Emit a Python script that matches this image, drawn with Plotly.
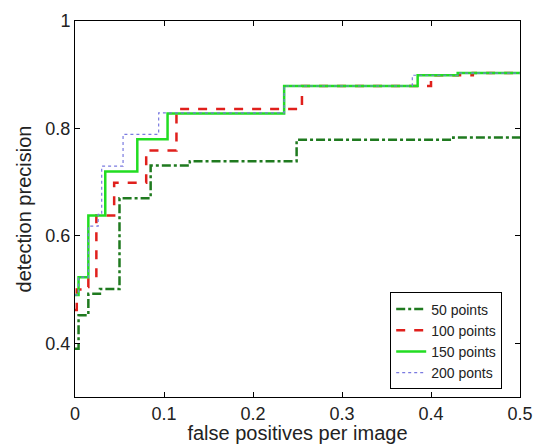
import plotly.graph_objects as go

fp_50 = [0, 0.004, 0.015, 0.028, 0.050, 0.085, 0.129, 0.249, 0.425, 0.5]
prec_50 = [0.39, 0.452, 0.492, 0.501, 0.67, 0.731, 0.739, 0.779, 0.783, 0.783]

fp_100 = [0, 0.002, 0.0075, 0.015, 0.024, 0.044, 0.080, 0.114, 0.255, 0.400, 0.447, 0.5]
prec_100 = [0.462, 0.50, 0.505, 0.521, 0.638, 0.699, 0.759, 0.836, 0.879, 0.899, 0.903, 0.903]

fp_150 = [0, 0.004, 0.015, 0.034, 0.070, 0.104, 0.235, 0.385, 0.43, 0.5]
prec_150 = [0.49, 0.523, 0.638, 0.72, 0.78, 0.828, 0.879, 0.899, 0.903, 0.903]

fp_200 = [0, 0.004, 0.015, 0.026, 0.030, 0.054, 0.094, 0.235, 0.379, 0.43, 0.5]
prec_200 = [0.49, 0.523, 0.618, 0.64, 0.73, 0.789, 0.829, 0.879, 0.899, 0.903, 0.903]

names = ["50 points", "100 points", "150 points", "200 ponts"]
x_ticks = [0, 0.1, 0.2, 0.3, 0.4, 0.5]
x_ticklabels = ["0", "0.1", "0.2", "0.3", "0.4", "0.5"]
y_ticks = [0.4, 0.6, 0.8, 1.0]
y_ticklabels = ["0.4", "0.6", "0.8", "1"]

fig = go.Figure()
series = [
    (fp_50, prec_50, names[0], dict(color="#1f7a1f", width=2.5, dash="dashdot")),
    (fp_100, prec_100, names[1], dict(color="#e0201c", width=2.5, dash="dash")),
    (fp_150, prec_150, names[2], dict(color="#22dd22", width=2.5, dash="solid")),
    (fp_200, prec_200, names[3], dict(color="#7a7ae0", width=1.2, dash="dot")),
]
for xs, ys, nm, ln in series:
    fig.add_trace(go.Scatter(x=xs, y=ys, name=nm, mode="lines",
                             line=dict(shape="hv", **ln)))

axis_common = dict(showline=True, linecolor="black", linewidth=1, mirror="ticks",
                   ticks="inside", ticklen=5, tickcolor="black", showgrid=False,
                   zeroline=False, automargin=False,
                   tickfont=dict(size=18, color="#222"))
fig.update_xaxes(range=[0, 0.5], tickvals=x_ticks, ticktext=x_ticklabels,
                 title=dict(text="false positives per image", font=dict(size=20, color="#222"), standoff=2),
                 **axis_common)
fig.update_yaxes(range=[0.3, 1.0], tickvals=y_ticks, ticktext=y_ticklabels,
                 title=dict(text="detection precision", font=dict(size=20, color="#222"), standoff=8),
                 **axis_common)

fig.update_layout(
    width=534, height=444,
    margin=dict(l=75, r=14, t=21, b=47),
    paper_bgcolor="white", plot_bgcolor="white",
    font=dict(family="Liberation Sans, Arial, sans-serif", color="#222"),
    legend=dict(x=0.96, y=0.278, xanchor="right", yanchor="top",
                bordercolor="black", borderwidth=1, bgcolor="white",
                font=dict(size=14), tracegroupgap=0, itemwidth=30),
    showlegend=True,
)
fig.write_html("out.html", config={"displayModeBar": False},
               post_script="document.body.style.margin='0';document.body.style.overflow='hidden';")
